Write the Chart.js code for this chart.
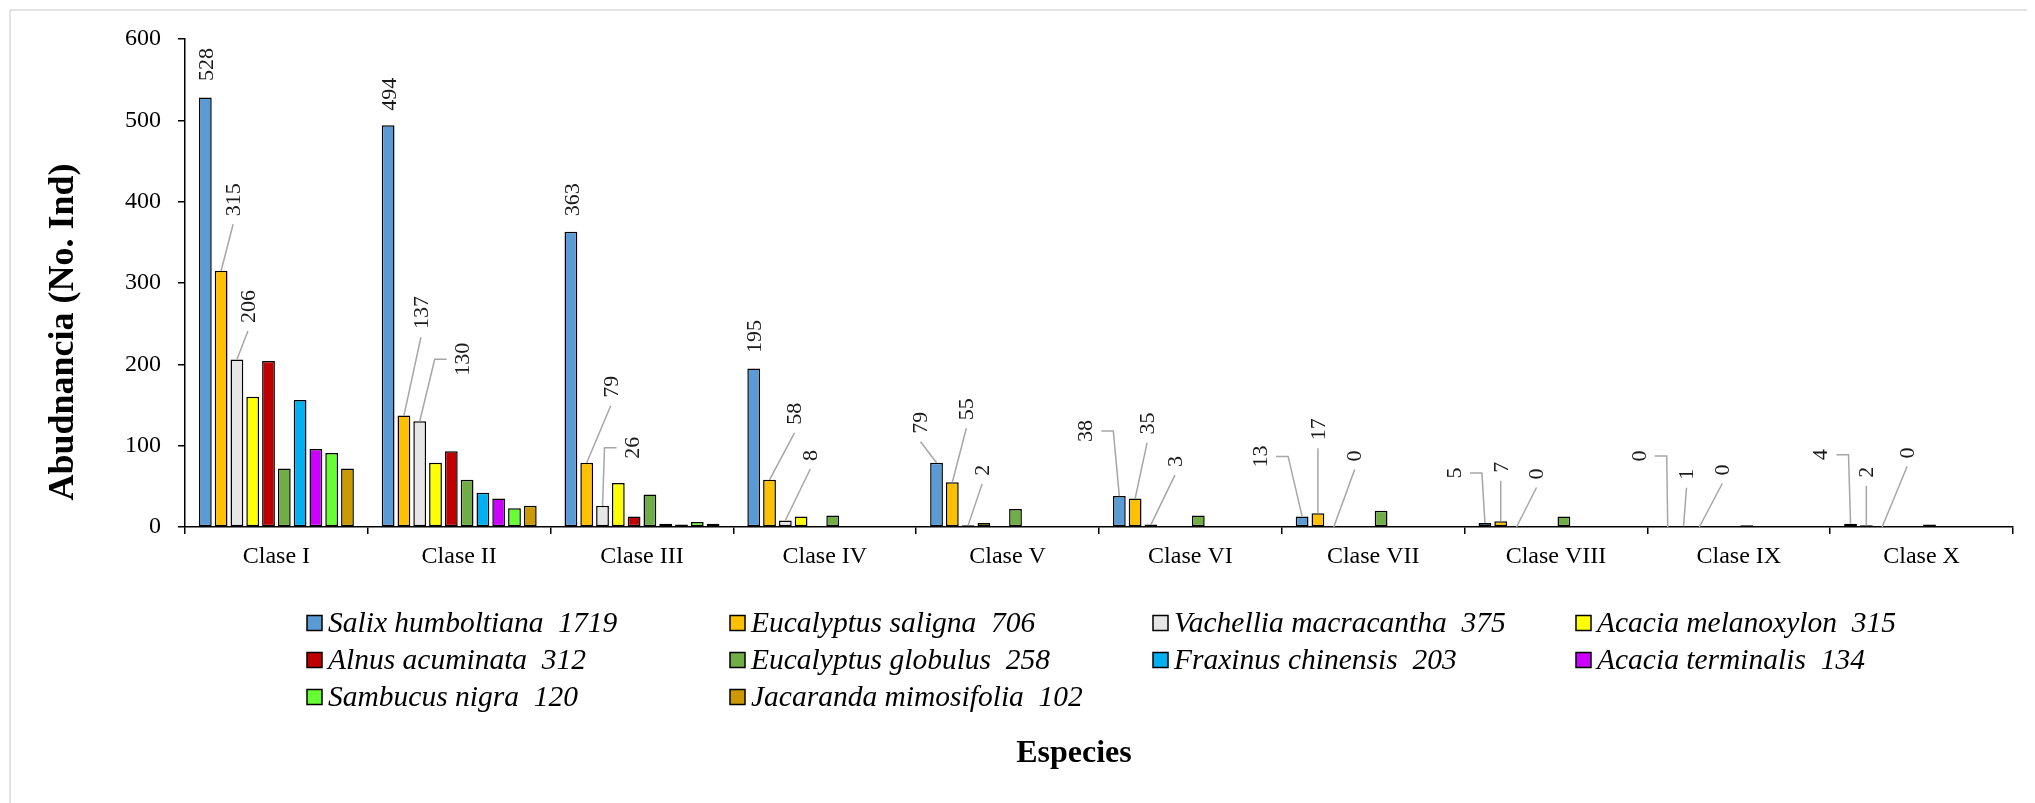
<!DOCTYPE html>
<html>
<head>
<meta charset="utf-8">
<script src="https://cdn.jsdelivr.net/npm/chart.js@4.4.1/dist/chart.umd.min.js"></script>
<style>
  html, body { margin: 0; padding: 0; background: #fff; }
  #wrap { width: 2035px; height: 803px; }
</style>
</head>
<body>
<div id="wrap"><canvas id="abundanceChart" width="2035" height="803"></canvas></div>
<script>
const categories = ['Clase I', 'Clase II', 'Clase III', 'Clase IV', 'Clase V',
                    'Clase VI', 'Clase VII', 'Clase VIII', 'Clase IX', 'Clase X'];

const species = ['Salix humboltiana', 'Eucalyptus saligna', 'Vachellia macracantha', 'Acacia melanoxylon',
                 'Alnus acuminata', 'Eucalyptus globulus', 'Fraxinus chinensis', 'Acacia terminalis',
                 'Sambucus nigra', 'Jacaranda mimosifolia'];
const totals = [1719, 706, 375, 315, 312, 258, 203, 134, 120, 102];

const salix        = [528, 494, 363, 195, 79, 38, 13, 5, 0, 4];
const eSaligna     = [315, 137, 79, 58, 55, 35, 17, 7, 1, 2];
const vachellia    = [206, 130, 26, 8, 2, 3, 0, 0, 0, 0];
const aMelanoxylon = [160, 79, 54, 13, 5, 1, 1, 1, 0, 1];
const alnus        = [204, 93, 13, 1, 1, 0, 0, 0, 0, 0];
const eGlobulus    = [72, 58, 40, 14, 22, 14, 20, 13, 2, 3];
const fraxinus     = [156, 42, 4, 0, 1, 0, 0, 0, 0, 0];
const aTerminalis  = [96, 35, 3, 0, 0, 0, 0, 0, 0, 0];
const sambucus     = [91, 23, 6, 0, 0, 0, 0, 0, 0, 0];
const jacaranda    = [72, 26, 4, 0, 0, 0, 0, 0, 0, 0];

const yTicks = [0, 100, 200, 300, 400, 500, 600];

const seriesValues = [salix, eSaligna, vachellia, aMelanoxylon, alnus,
                      eGlobulus, fraxinus, aTerminalis, sambucus, jacaranda];
const colors = ['#5B9BD5', '#FFC000', '#E7E6E6', '#FFFF00', '#C00000',
                '#70AD47', '#00B0F0', '#CC00FF', '#66FF33', '#CC9900'];

// label placement for the three labelled series: [dx, dy, leader]
const labelPlacement = [
  [[1, -33, 'none'], [1, -31, 'none'], [1, -32, 'none'], [0, -32, 'none'], [-16, -40, 'line'],
   [-34, -65, 'elbowR'], [-42, -60, 'elbowR'], [-31, -50, 'elbowR'], [-29, -71, 'elbowR'], [-30, -69, 'elbowR']],
  [[12, -71, 'line'], [17, -103, 'line'], [24, -76, 'line'], [25, -66, 'line'], [14, -73, 'line'],
   [12, -75, 'line'], [0, -84, 'line'], [0, -54, 'line'], [3, -52, 'line'], [0, -53, 'line']],
  [[11, -53, 'line'], [43, -62, 'elbowL'], [30, -58, 'elbowL'], [25, -65, 'line'], [14, -55, 'line'],
   [24, -63, 'line'], [21, -71, 'line'], [20, -53, 'line'], [23, -57, 'line'], [25, -74, 'line']]
];

const SERIF = "'Liberation Serif', 'Times New Roman', serif";

const extras = {
  id: 'extras',
  afterDraw(chart) {
    const ctx = chart.ctx;
    const area = chart.chartArea;

    // chart frame
    ctx.save();
    ctx.strokeStyle = '#D9D9D9';
    ctx.lineWidth = 1.5;
    ctx.beginPath();
    ctx.moveTo(10, 803);
    ctx.lineTo(10, 10);
    ctx.lineTo(2027, 10);
    ctx.stroke();
    ctx.restore();

    // data labels with leader lines
    ctx.save();
    ctx.font = '22px ' + SERIF;
    for (let d = 0; d < 3; d++) {
      const meta = chart.getDatasetMeta(d);
      meta.data.forEach((bar, i) => {
        const [dx, dy, kind] = labelPlacement[d][i];
        const cx = bar.x + dx, cy = bar.y + dy;
        const txt = String(seriesValues[d][i]);
        const w = ctx.measureText(txt).width;
        ctx.strokeStyle = '#A6A6A6';
        ctx.lineWidth = 1.5;
        if (kind === 'line') {
          ctx.beginPath();
          ctx.moveTo(cx, cy + w / 2 + 8);
          ctx.lineTo(bar.x, bar.y);
          ctx.stroke();
        } else if (kind === 'elbowL' || kind === 'elbowR') {
          const s = kind === 'elbowL' ? -1 : 1;
          ctx.beginPath();
          ctx.moveTo(cx + s * 16, cy);
          ctx.lineTo(cx + s * 28, cy);
          ctx.lineTo(bar.x, bar.y);
          ctx.stroke();
        }
        ctx.save();
        ctx.translate(cx, cy);
        ctx.rotate(-Math.PI / 2);
        ctx.fillStyle = '#1a1a1a';
        ctx.textAlign = 'center';
        ctx.textBaseline = 'middle';
        ctx.fillText(txt, 0, 1);
        ctx.restore();
      });
    }
    ctx.restore();

    // axis titles
    ctx.save();
    ctx.fillStyle = '#000';
    ctx.textAlign = 'center';
    ctx.textBaseline = 'middle';
    ctx.font = 'bold 32px ' + SERIF;
    ctx.fillText('Especies', 1074, 754);
    ctx.font = 'bold 36px ' + SERIF;
    ctx.translate(64, 332);
    ctx.rotate(-Math.PI / 2);
    ctx.fillText('Abudnancia (No. Ind)', 0, 0);
    ctx.restore();

    // legend, 4 columns
    ctx.save();
    ctx.font = 'italic 29.5px ' + SERIF;
    ctx.textBaseline = 'middle';
    species.forEach((name, k) => {
      const col = k % 4, row = Math.floor(k / 4);
      const x = area.left + 122 + col * 423;
      const y = 623 + row * 37;
      ctx.fillStyle = colors[k];
      ctx.fillRect(x, y - 7.5, 15, 15);
      ctx.strokeStyle = '#000';
      ctx.lineWidth = 1.5;
      ctx.strokeRect(x, y - 7.5, 15, 15);
      ctx.fillStyle = '#000';
      ctx.fillText(name + '  ' + totals[k], x + 21, y + 1);
    });
    ctx.restore();
  }
};

const ctx = document.getElementById('abundanceChart').getContext('2d');
new Chart(ctx, {
  type: 'bar',
  data: {
    labels: categories,
    datasets: seriesValues.map((vals, k) => ({
      label: species[k],
      data: vals,
      backgroundColor: colors[k],
      borderColor: '#000',
      borderWidth: 1.5,
      borderSkipped: false,
      categoryPercentage: 0.864,
      barPercentage: 0.81
    }))
  },
  options: {
    responsive: false,
    animation: false,
    devicePixelRatio: 1,
    layout: { padding: { left: 0, top: 39, right: 22, bottom: 0 } },
    plugins: {
      legend: { display: false },
      tooltip: { enabled: false }
    },
    scales: {
      x: {
        afterFit: (s) => { s.height = 276; },
        grid: { drawOnChartArea: false, drawTicks: true, tickLength: 7, color: '#000', lineWidth: 1.5, offset: true },
        border: { color: '#000', width: 1.5 },
        ticks: { color: '#000', font: { family: SERIF, size: 24 }, padding: 8, maxRotation: 0 }
      },
      y: {
        min: 0,
        max: 600,
        afterFit: (s) => { s.width = 185; },
        afterBuildTicks: (s) => { s.ticks = yTicks.map(v => ({ value: v })); },
        grid: { drawOnChartArea: false, drawTicks: true, tickLength: 7, color: '#000', lineWidth: 1.5 },
        border: { color: '#000', width: 1.5 },
        ticks: { color: '#000', font: { family: SERIF, size: 24 }, padding: 17 }
      }
    }
  },
  plugins: [extras]
});
</script>
</body>
</html>
